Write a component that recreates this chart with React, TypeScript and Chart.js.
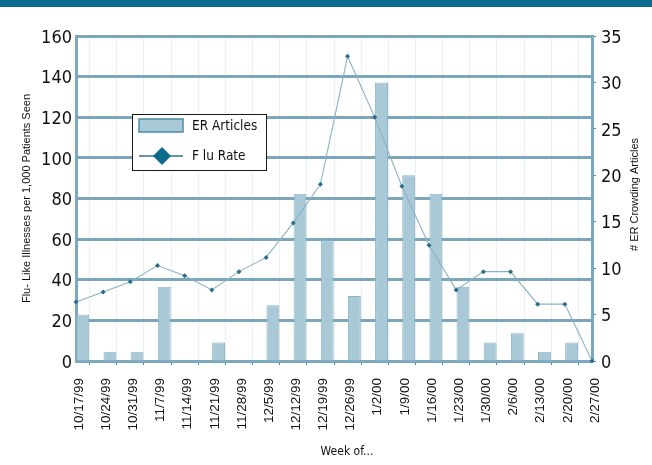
import React, { useEffect, useRef } from 'react';
import { Chart, registerables } from 'chart.js';

Chart.register(...registerables);

// ---- data ----
const categories = [
  '10/17/99', '10/24/99', '10/31/99', '11/7/99', '11/14/99', '11/21/99', '11/28/99',
  '12/5/99', '12/12/99', '12/19/99', '12/26/99', '1/2/00', '1/9/00', '1/16/00',
  '1/23/00', '1/30/00', '2/6/00', '2/13/00', '2/20/00', '2/27/00',
];
const erArticles = [5, 1, 1, 8, 0, 2, 0, 6, 18, 13, 7, 30, 20, 18, 8, 2, 3, 1, 2, 0];
const fluRate = [29, 34, 39, 47, 42, 35, 44, 51, 68, 87, 150, 120, 86, 57, 35, 44, 44, 28, 28, 0];

const leftMax = 160;
const leftStep = 20;
const rightMax = 35;
const rightStep = 5;

const barLabel = 'ER Articles';
const lineLabel = 'F lu Rate';
const leftTitle = 'Flu- Like Illnesses per 1,000 Patients Seen';
const rightTitle = '# ER Crowding Articles';
const xTitle = 'Week of...';

const NARROW = '"Liberation Sans Narrow", "DejaVu Sans Condensed", "Liberation Sans", sans-serif';
const SANS = '"Liberation Sans", Arial, sans-serif';

const GRID = '#7aa7ba';
const AXIS = '#7aa9bd';
const BAR_FILL = '#a9c9d7';
const BAR_EDGE = '#8db5c7';
const LINE = '#8ab2c4';
const MARKER = '#2b6d89';

export default function App() {
  const ref = useRef<HTMLCanvasElement>(null);

  useEffect(() => {
    const canvas = ref.current;
    if (!canvas) return;

    const decor = {
      id: 'decor',
      beforeDraw(chart: any) {
        const { ctx, width, height } = chart;
        ctx.save();
        ctx.fillStyle = '#ffffff';
        ctx.fillRect(0, 0, width, height);
        ctx.fillStyle = '#0b6b8d';
        ctx.fillRect(0, 0, width, 7);
        ctx.restore();
      },
      afterDraw(chart: any) {
        const { ctx, chartArea } = chart;
        ctx.save();
        ctx.fillStyle = '#111';
        // x title
        ctx.font = `12px ${NARROW}`;
        ctx.textAlign = 'center';
        ctx.textBaseline = 'middle';
        ctx.fillText(xTitle, (chartArea.left + chartArea.right) / 2 + 13, 452);
        // right title (reads bottom to top)
        ctx.save();
        ctx.translate(635, (chartArea.top + chartArea.bottom) / 2 - 4);
        ctx.rotate(-Math.PI / 2);
        ctx.font = `11px ${SANS}`;
        ctx.fillText(rightTitle, 0, 0);
        ctx.restore();

        // legend
        const bx = 132.5, by = 114.5, bw = 134, bh = 56;
        ctx.fillStyle = '#ffffff';
        ctx.fillRect(bx, by, bw, bh);
        ctx.strokeStyle = '#1a1a1a';
        ctx.lineWidth = 1;
        ctx.strokeRect(bx, by, bw, bh);

        const ds = chart.data.datasets;
        // bar swatch
        ctx.fillStyle = BAR_FILL;
        ctx.fillRect(139, 119, 44, 13);
        ctx.strokeStyle = '#4a8ba6';
        ctx.lineWidth = 1.5;
        ctx.strokeRect(139, 119, 44, 13);
        // line swatch
        ctx.strokeStyle = '#2d7393';
        ctx.lineWidth = 1.5;
        ctx.beginPath();
        ctx.moveTo(139, 156);
        ctx.lineTo(183, 156);
        ctx.stroke();
        ctx.fillStyle = '#0e6a8a';
        ctx.beginPath();
        ctx.moveTo(162, 147);
        ctx.lineTo(171, 156);
        ctx.lineTo(162, 165);
        ctx.lineTo(153, 156);
        ctx.closePath();
        ctx.fill();

        ctx.fillStyle = '#111';
        ctx.font = `13.5px ${NARROW}`;
        ctx.textAlign = 'left';
        ctx.textBaseline = 'middle';
        ctx.fillText(ds[2].label, 192, 126);
        ctx.fillText(ds[0].label, 192, 156);
        ctx.restore();
      },
    };

    const chart = new Chart(canvas, {
      type: 'bar',
      data: {
        labels: categories,
        datasets: [
          {
            type: 'line',
            label: lineLabel,
            data: fluRate,
            yAxisID: 'y',
            borderColor: LINE,
            borderWidth: 1.1,
            pointStyle: 'rectRot',
            pointRadius: 2.5,
            pointBackgroundColor: MARKER,
            pointBorderColor: MARKER,
            pointBorderWidth: 0,
            tension: 0,
            order: 0,
            clip: false,
          } as any,
          {
            type: 'bar',
            label: '',
            data: categories.map(() => null),
            yAxisID: 'y1',
            order: 1,
            categoryPercentage: 1,
            barPercentage: 0.95,
          } as any,
          {
            type: 'bar',
            label: barLabel,
            data: erArticles,
            yAxisID: 'y1',
            backgroundColor: BAR_FILL,
            borderColor: BAR_EDGE,
            borderWidth: 1,
            order: 1,
            categoryPercentage: 1,
            barPercentage: 0.95,
          } as any,
        ],
      },
      options: {
        responsive: false,
        animation: false,
        layout: { padding: { top: 36, left: 0, right: 0, bottom: 0 } },
        plugins: {
          legend: { display: false },
          tooltip: { enabled: false },
        },
        scales: {
          x: {
            type: 'category',
            offset: false,
            afterFit: (s: any) => { s.height = 104; },
            grid: {
              display: true,
              drawOnChartArea: true,
              color: 'rgba(190,212,222,0.35)',
              lineWidth: 1,
              drawTicks: true,
              tickLength: 4,
              tickColor: '#4d8aa3',
            },
            border: { display: true, color: AXIS, width: 3 },
            ticks: {
              autoSkip: false,
              minRotation: 90,
              maxRotation: 90,
              padding: 13,
              labelOffset: 3,
              color: '#111',
              font: { family: SANS, size: 13.5 },
            },
          },
          y: {
            position: 'left',
            min: 0,
            max: leftMax,
            afterFit: (s: any) => { s.width = 76; },
            grid: { color: GRID, lineWidth: 3, drawTicks: false },
            border: { display: true, color: AXIS, width: 3 },
            ticks: {
              stepSize: leftStep,
              padding: 4,
              labelOffset: 2,
              color: '#111',
              font: { family: NARROW, size: 18 },
            },
            title: {
              display: true,
              text: leftTitle,
              color: '#111',
              font: { family: SANS, size: 11 },
              padding: { top: 20, bottom: 0 },
            },
          },
          y1: {
            position: 'right',
            min: 0,
            max: rightMax,
            afterFit: (s: any) => { s.width = 60; },
            grid: {
              drawOnChartArea: false,
              drawTicks: true,
              tickLength: 4,
              tickColor: '#4d8aa3',
            },
            border: { display: true, color: AXIS, width: 3 },
            ticks: {
              stepSize: rightStep,
              padding: 5,
              labelOffset: 2,
              color: '#111',
              font: { family: NARROW, size: 18 },
            },
          },
        },
      },
      plugins: [decor],
    });

    return () => chart.destroy();
  }, []);

  return (
    <div style={{ position: 'absolute', left: 0, top: 0, width: 652, height: 465 }}>
      <canvas ref={ref} width={652} height={465} style={{ display: 'block' }} />
    </div>
  );
}
